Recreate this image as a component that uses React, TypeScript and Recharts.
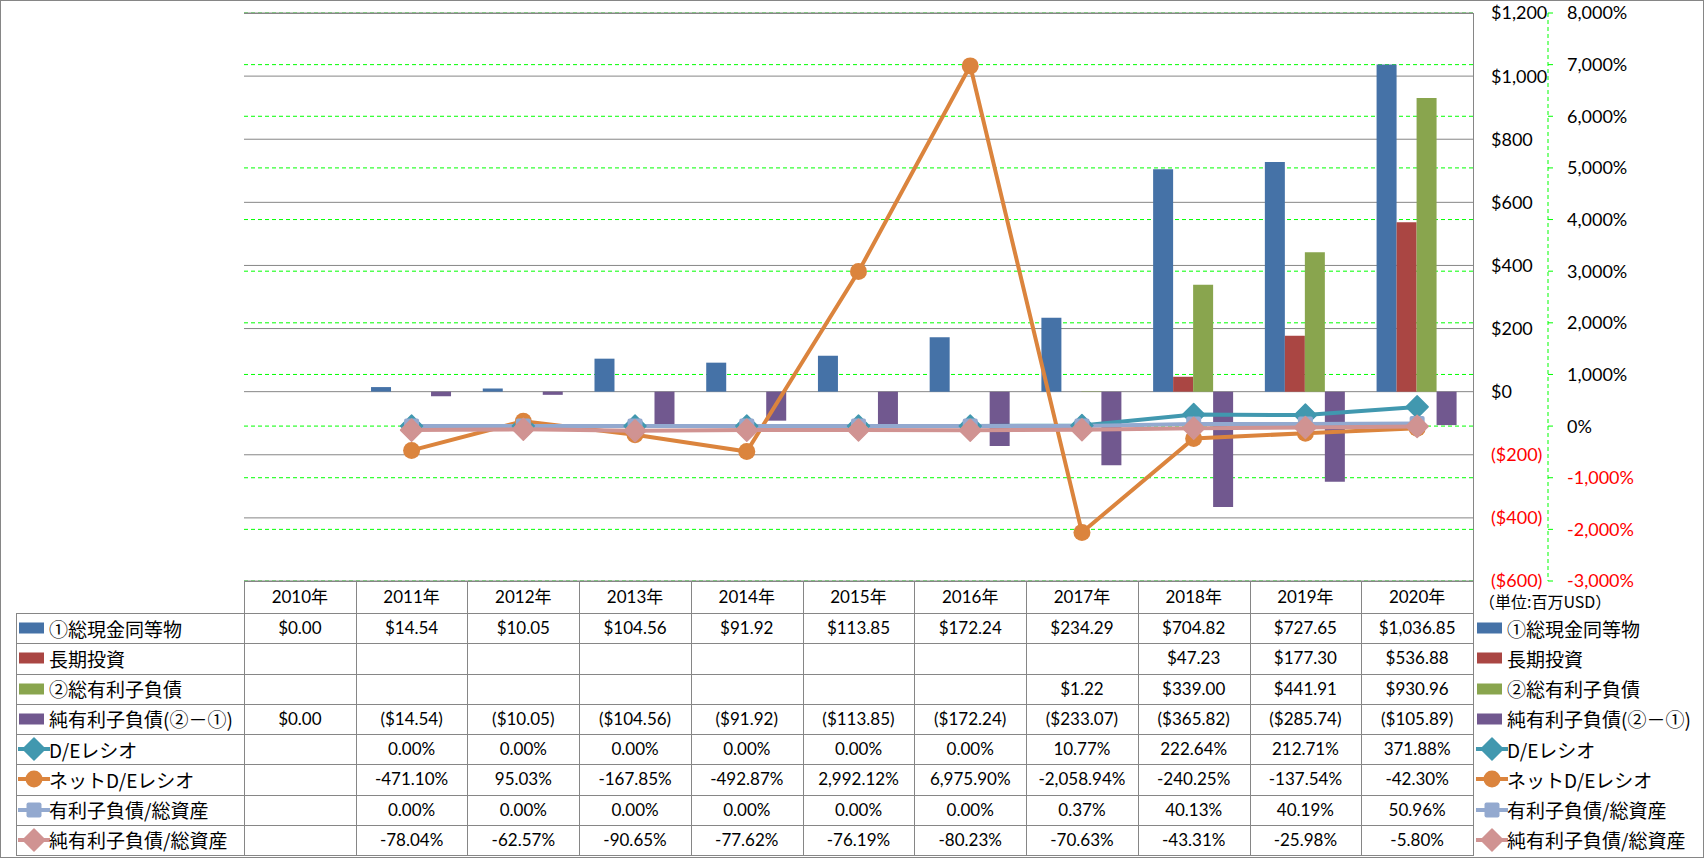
import React from 'react'
import { ComposedChart, Bar, Line, XAxis, YAxis, CartesianGrid } from 'recharts'

const years = ['2010年', '2011年', '2012年', '2013年', '2014年', '2015年', '2016年', '2017年', '2018年', '2019年', '2020年']

// 単位: 百万USD
const cashEq = [0, 14.54, 10.05, 104.56, 91.92, 113.85, 172.24, 234.29, 704.82, 727.65, 1036.85]
const longTermInv = [null, null, null, null, null, null, null, null, 47.23, 177.3, 536.88]
const totalDebt = [null, null, null, null, null, null, null, 1.22, 339.0, 441.91, 930.96]
const netDebt = [0, -14.54, -10.05, -104.56, -91.92, -113.85, -172.24, -233.07, -365.82, -285.74, -105.89]

// %
const deRatio = [null, 0, 0, 0, 0, 0, 0, 10.77, 222.64, 212.71, 371.88]
const netDeRatio = [null, -471.1, 95.03, -167.85, -492.87, 2992.12, 6975.9, -2058.94, -240.25, -137.54, -42.3]
const debtToAssets = [null, 0, 0, 0, 0, 0, 0, 0.37, 40.13, 40.19, 50.96]
const netDebtToAssets = [null, -78.04, -62.57, -90.65, -77.62, -76.19, -80.23, -70.63, -43.31, -25.98, -5.8]

const usdTicks = [-600, -400, -200, 0, 200, 400, 600, 800, 1000, 1200]
const pctTicks = [-3000, -2000, -1000, 0, 1000, 2000, 3000, 4000, 5000, 6000, 7000, 8000]

const FONT = 'Lato, "Noto Sans CJK JP", sans-serif'
const JP_FONT = '"Noto Sans CJK JP", sans-serif'
const GRID = '#868686'
const GREEN = '#00FF00'

type Shape = 'diamond' | 'circle' | 'square'
type Series = {
  key: string
  name: string
  kind: 'bar' | 'line'
  color: string
  values: (number | null)[]
  unit: 'usd' | 'pct'
  marker?: Shape
}

const series: Series[] = [
  { key: 'cash', name: '①総現金同等物', kind: 'bar', color: '#4572A7', values: cashEq, unit: 'usd' },
  { key: 'lti', name: '長期投資', kind: 'bar', color: '#AA4643', values: longTermInv, unit: 'usd' },
  { key: 'debt', name: '②総有利子負債', kind: 'bar', color: '#89A54E', values: totalDebt, unit: 'usd' },
  { key: 'net', name: '純有利子負債(②－①)', kind: 'bar', color: '#71588F', values: netDebt, unit: 'usd' },
  { key: 'de', name: 'D/Eレシオ', kind: 'line', color: '#4198AF', values: deRatio, unit: 'pct', marker: 'diamond' },
  { key: 'nde', name: 'ネットD/Eレシオ', kind: 'line', color: '#DB843D', values: netDeRatio, unit: 'pct', marker: 'circle' },
  { key: 'dta', name: '有利子負債/総資産', kind: 'line', color: '#93A9CF', values: debtToAssets, unit: 'pct', marker: 'square' },
  { key: 'ndta', name: '純有利子負債/総資産', kind: 'line', color: '#D09392', values: netDebtToAssets, unit: 'pct', marker: 'diamond' },
]

const data = years.map((year, i) => {
  const row: Record<string, string | number | null> = { year }
  series.forEach((s) => (row[s.key] = s.values[i]))
  return row
})

const n2 = (v: number) => v.toLocaleString('en-US', { minimumFractionDigits: 2, maximumFractionDigits: 2 })
const fmtCell = (v: number | null, unit: string) => {
  if (v == null) return ''
  if (unit === 'usd') return v < 0 ? `($${n2(-v)})` : `$${n2(v)}`
  return `${n2(v)}%`
}
const fmtUsdAxis = (v: number) => (v < 0 ? `($${Math.abs(v).toLocaleString('en-US')})` : `$${v.toLocaleString('en-US')}`)
const fmtPctAxis = (v: number) => `${v.toLocaleString('en-US')}%`

// layout
const PLOT_L = 244
const PLOT_R = 1473
const PLOT_T = 13
const TABLE_T = 581
const HEAD_H = 32
const ROW_H = 30.25
const LABEL_L = 16
const colW = (PLOT_R - PLOT_L) / years.length
const tableBottom = TABLE_T + HEAD_H + ROW_H * series.length

function Marker({ shape, cx, cy, color }: { shape: Shape; cx: number; cy: number; color: string }) {
  if (shape === 'diamond') {
    const r = 11
    return <path d={`M${cx},${cy - r}L${cx + r},${cy}L${cx},${cy + r}L${cx - r},${cy}Z`} fill={color} stroke={color} strokeWidth={1.5} strokeLinejoin="round" />
  }
  if (shape === 'circle') return <circle cx={cx} cy={cy} r={8.5} fill={color} />
  return <rect x={cx - 7.5} y={cy - 7.5} width={15} height={15} rx={2} fill={color} />
}

function KeyIcon({ s }: { s: Series }) {
  if (s.kind === 'bar') {
    return (
      <svg width={30} height={14} style={{ display: 'block' }}>
        <rect x={1} y={1.5} width={25} height={11} fill={s.color} />
      </svg>
    )
  }
  return (
    <svg width={32} height={24} style={{ display: 'block' }}>
      <line x1={0} y1={12} x2={32} y2={12} stroke={s.color} strokeWidth={4} />
      <Marker shape={s.marker as Shape} cx={16} cy={12} color={s.color} />
    </svg>
  )
}

function AxisTick(props: any) {
  const { x, y, payload, fmt } = props
  const v = payload.value as number
  return (
    <text x={x} y={y} dy="0.36em" textAnchor="start" fontSize={18} fontFamily={FONT} fill={v < 0 ? '#FF0000' : '#000000'}>
      {fmt(v)}
    </text>
  )
}

const hLine = (key: string, left: number, top: number, width: number) => (
  <div key={key} style={{ position: 'absolute', left, top, width, height: 1, background: GRID }} />
)
const vLine = (key: string, left: number, top: number, height: number) => (
  <div key={key} style={{ position: 'absolute', left, top, width: 1, height, background: GRID }} />
)

export default function App() {
  const lines: React.ReactNode[] = []
  lines.push(hLine('hp', PLOT_L, PLOT_T, PLOT_R - PLOT_L + 1))
  lines.push(hLine('ht', PLOT_L, TABLE_T, PLOT_R - PLOT_L + 1))
  series.forEach((_, i) => lines.push(hLine(`hr${i}`, LABEL_L, TABLE_T + HEAD_H + i * ROW_H, PLOT_R - LABEL_L + 1)))
  lines.push(hLine('hb', LABEL_L, tableBottom, PLOT_R - LABEL_L + 1))
  lines.push(vLine('vl', LABEL_L, TABLE_T + HEAD_H, tableBottom - TABLE_T - HEAD_H))
  years.forEach((_, i) => lines.push(vLine(`vc${i}`, PLOT_L + i * colW, TABLE_T, tableBottom - TABLE_T)))
  lines.push(vLine('vr', PLOT_R, PLOT_T, tableBottom - PLOT_T + 1))

  return (
    <div style={{ position: 'relative', width: 1704, height: 858, background: '#ffffff', fontFamily: FONT, overflow: 'hidden' }}>
      <style>{'body{margin:0}'}</style>
      <div style={{ position: 'absolute', left: 0, top: 0 }}>
        <ComposedChart
          width={1704}
          height={TABLE_T + 20}
          data={data}
          margin={{ top: PLOT_T, right: 0, bottom: 20, left: PLOT_L }}
          barGap={0}
          barCategoryGap="13.7%"
        >
          <CartesianGrid yAxisId="right" vertical={false} stroke={GREEN} strokeDasharray="4 3" />
          <CartesianGrid yAxisId="left" vertical={false} stroke={GRID} />
          <XAxis dataKey="year" hide />
          {/* USD axis sits next to the plot, % axis further right */}
          <YAxis
            yAxisId="left"
            orientation="right"
            domain={[-600, 1200]}
            ticks={usdTicks}
            interval={0}
            width={75}
            axisLine={false}
            tickLine={false}
            tickSize={0}
            tickMargin={18}
            tick={(p: any) => <AxisTick {...p} fmt={fmtUsdAxis} />}
          />
          <YAxis
            yAxisId="right"
            orientation="right"
            domain={[-3000, 8000]}
            ticks={pctTicks}
            interval={0}
            width={156}
            axisLine={{ stroke: GREEN, strokeDasharray: '4 3' }}
            tickLine={{ stroke: GREEN }}
            tickSize={5}
            tickMargin={14}
            tick={(p: any) => <AxisTick {...p} fmt={fmtPctAxis} />}
          />
          {series
            .filter((s) => s.kind === 'bar')
            .map((s) => (
              <Bar key={s.key} yAxisId="left" dataKey={s.key} name={s.name} fill={s.color} isAnimationActive={false} />
            ))}
          {series
            .filter((s) => s.kind === 'line')
            .map((s) => (
              <Line
                key={s.key}
                yAxisId="right"
                dataKey={s.key}
                name={s.name}
                stroke={s.color}
                strokeWidth={4}
                isAnimationActive={false}
                activeDot={false}
                dot={(p: any) =>
                  p.cx == null || p.cy == null || p.value == null ? (
                    <g key={`${s.key}-${p.index}`} />
                  ) : (
                    <Marker key={`${s.key}-${p.index}`} shape={s.marker as Shape} cx={p.cx} cy={p.cy} color={s.color} />
                  )
                }
              />
            ))}
        </ComposedChart>
      </div>

      {/* data table */}
      {years.map((y, i) => (
        <div
          key={y}
          style={{
            position: 'absolute',
            left: PLOT_L + i * colW,
            top: TABLE_T,
            width: colW,
            height: HEAD_H,
            lineHeight: `${HEAD_H}px`,
            textAlign: 'center',
            fontSize: 17,
            color: '#000',
          }}
        >
          {y}
        </div>
      ))}
      {series.map((s, r) => (
        <React.Fragment key={s.key}>
          <div
            style={{
              position: 'absolute',
              left: LABEL_L + 2,
              top: TABLE_T + HEAD_H + r * ROW_H,
              width: PLOT_L - LABEL_L - 2,
              height: ROW_H,
              display: 'flex',
              alignItems: 'center',
              whiteSpace: 'nowrap',
              fontFamily: JP_FONT,
              fontSize: 19,
            }}
          >
            <KeyIcon s={s} />
            <span style={{ marginLeft: s.kind === 'bar' ? 1 : -1 }}>{s.name}</span>
          </div>
          {s.values.map((v, i) => (
            <div
              key={i}
              style={{
                position: 'absolute',
                left: PLOT_L + i * colW,
                top: TABLE_T + HEAD_H + r * ROW_H,
                width: colW,
                height: ROW_H,
                lineHeight: `${ROW_H}px`,
                textAlign: 'center',
                fontSize: 17,
              }}
            >
              {fmtCell(v, s.unit)}
            </div>
          ))}
          <div
            style={{
              position: 'absolute',
              left: PLOT_R + 3,
              top: TABLE_T + HEAD_H + r * ROW_H,
              height: ROW_H,
              display: 'flex',
              alignItems: 'center',
              whiteSpace: 'nowrap',
              fontFamily: JP_FONT,
              fontSize: 19,
            }}
          >
            <KeyIcon s={s} />
            <span style={{ marginLeft: s.kind === 'bar' ? 1 : -1 }}>{s.name}</span>
          </div>
        </React.Fragment>
      ))}
      <div style={{ position: 'absolute', left: PLOT_R + 6, top: 591, fontFamily: JP_FONT, fontSize: 16, lineHeight: '20px', whiteSpace: 'nowrap' }}>
        （単位:百万USD）
      </div>
      {lines}
      <div style={{ position: 'absolute', left: 0, top: 0, width: 1704, height: 858, border: `1px solid ${GRID}`, boxSizing: 'border-box' }} />
    </div>
  )
}
